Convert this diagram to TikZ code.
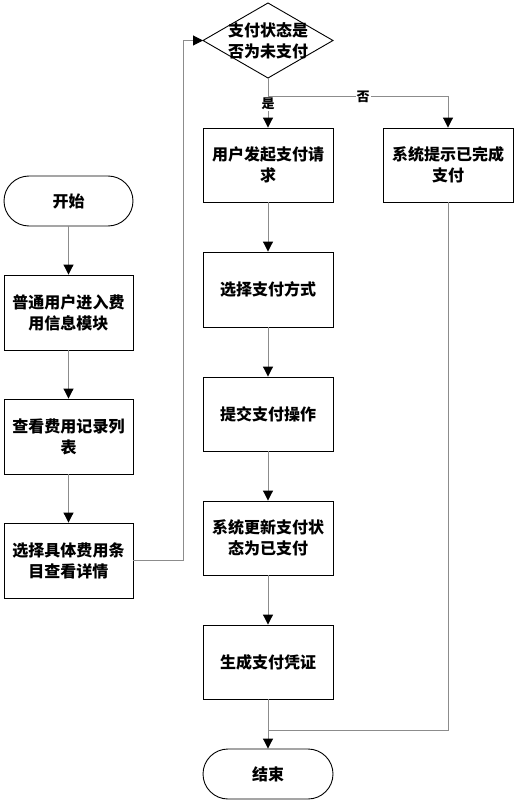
\documentclass[tikz,border=0pt]{standalone}
\usepackage{fontspec}
\usetikzlibrary{arrows.meta}
\newfontfamily\cjk{Noto Sans CJK SC}
\tikzset{
  every node/.style={font=\cjk\bfseries\fontsize{16}{21}\selectfont},
  procbox/.style={draw=black, line width=0.9pt, minimum width=130pt, minimum height=74pt, align=center, inner sep=0pt},
  term/.style={draw=black, line width=0.9pt, minimum width=129pt, minimum height=50pt, rounded corners=25pt, inner sep=0pt},
  conn/.style={draw=gray!90, line width=1pt},
  arr/.style={conn, -{Triangle[width=10pt,length=10pt,fill=black,color=black]}},
  lbl/.style={fill=white, inner sep=1pt, font=\cjk\bfseries\fontsize{13}{15}\selectfont}
}
\begin{document}
\begin{tikzpicture}[x=1pt,y=-1pt]
\useasboundingbox (0,0) rectangle (516,802);
% left column
\node[term] (start) at (68.5,201) {开始};
\node[procbox,minimum width=129pt,minimum height=75pt] (b1) at (68.5,312.5) {普通用户进入费\\用信息模块};
\node[procbox,minimum width=129pt,minimum height=75pt] (b2) at (68.5,436.5) {查看费用记录列\\表};
\node[procbox,minimum width=129pt,minimum height=75pt] (b3) at (68.5,560.5) {选择具体费用条\\目查看详情};
% decision
\node[inner sep=0pt, align=center] (dec) at (268,40.5) {支付状态是\\否为未支付};
\coordinate (decL) at (203,40.5);
\coordinate (decR) at (333,40.5);
\coordinate (decT) at (268,3);
\coordinate (decB) at (268,78);
\draw[black, line width=0.9pt] (decL) -- (decT) -- (decR) -- (decB) -- cycle;
% right column
\node[procbox] (r1) at (268,165) {用户发起支付请\\求};
\node[procbox,minimum height=75pt] (r2) at (268,289.5) {选择支付方式};
\node[procbox] (r3) at (268,414) {提交支付操作};
\node[procbox] (r4) at (268,538) {系统更新支付状\\态为已支付};
\node[procbox] (r5) at (268,662) {生成支付凭证};
\node[term,minimum width=130pt] (end) at (268,774) {结束};
\node[procbox] (n1) at (448,165) {系统提示已完成\\支付};
% connectors
\draw[arr] (start) -- (b1);
\draw[arr] (b1) -- (b2);
\draw[arr] (b2) -- (b3);
\coordinate (loopB) at (183,560.5);
\draw[arr] (b3.east) -- (loopB) |- (decL);
\coordinate (split) at (268,97);
\draw[arr] (decB) -- (r1.north);
\draw[arr] (split) -| (n1.north);
\node[lbl] (yes) at (268,104) {是};
\node[lbl] (no) at (363,97) {否};
\draw[arr] (r1) -- (r2);
\draw[arr] (r2) -- (r3);
\draw[arr] (r3) -- (r4);
\draw[arr] (r4) -- (r5);
\coordinate (merge) at (268,730);
\draw[conn] (n1.south) |- (merge);
\draw[arr] (r5) -- (end);
\end{tikzpicture}
\end{document}
